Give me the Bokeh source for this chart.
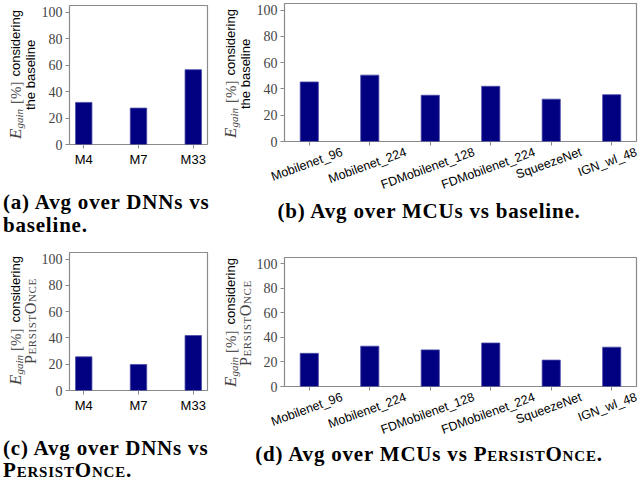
import math
from bokeh.plotting import figure
from bokeh.models import FixedTicker, Range1d, Div, LinearAxis
from bokeh.layouts import column, row
from bokeh.embed import file_html
from bokeh.resources import INLINE

# ---------------- data ----------------
dnn_names = ["M4", "M7", "M33"]
dnn_vs_baseline = [31.8, 27.5, 56.5]
dnn_vs_persist = [25.6, 19.8, 41.8]

mcu_names = ["Mobilenet_96", "Mobilenet_224", "FDMobilenet_128",
             "FDMobilenet_224", "SqueezeNet", "IGN_wl_48"]
mcu_vs_baseline = [45.3, 50.5, 35.2, 42.0, 32.2, 35.6]
mcu_vs_persist = [27.0, 32.8, 29.8, 35.4, 21.5, 32.0]

y_ticks = [0, 20, 40, 60, 80, 100]

captions = {
    "a": "(a) Avg over DNNs vs<br>baseline.",
    "b": "(b) Avg over MCUs vs baseline.",
    "c": "(c) Avg over DNNs vs<br><span style='font-variant:small-caps'>PersistOnce</span>.",
    "d": "(d) Avg over MCUs vs <span style='font-variant:small-caps'>PersistOnce</span>.",
}
ylabel_line1 = ("<i style=\"font-family:'Liberation Serif';font-size:17px;line-height:0;color:#444\">E</i>"
                "<span style=\"font-family:'Liberation Serif';font-style:italic;font-size:11px;"
                "line-height:0;vertical-align:-3px;color:#444\">gain</span>"
                "<span style=\"font-family:'Liberation Serif';font-size:15px;line-height:0;"
                "margin-inline-start:5px;margin-inline-end:5px;color:#555\">[%]</span>"
                "considering")
ylabel_line2_base = "the baseline"
ylabel_line2_persist = ("<span style=\"font-family:'Liberation Serif';font-variant:small-caps;"
                        "font-size:16px;line-height:0;letter-spacing:0.6px;color:#444\">PersistOnce</span>")

BAR = "#000080"
FRAME = "#8a8a8a"
SANS = "Liberation Sans"
LABW = 38

# approximate advance widths (em) of the tick-label font, used to centre rotated labels
CHAR_W = {"M": .833, "o": .556, "b": .556, "i": .222, "l": .222, "e": .556, "n": .556,
          "t": .278, "_": .556, "F": .611, "D": .722, "S": .667, "q": .556, "u": .556,
          "z": .5, "N": .722, "I": .278, "G": .778, "w": .722}


def text_w(s, fs):
    return fs * sum(CHAR_W.get(c, .556) for c in s)


def make_panel(names, vals, W, H, left, right, top, bottom, xlo, xhi, rotated):
    p = figure(width=W, height=H, x_range=Range1d(xlo, xhi), y_range=Range1d(0, 105),
               output_backend="svg", toolbar_location=None,
               min_border_left=left, min_border_right=right,
               min_border_top=top, min_border_bottom=bottom)
    p.background_fill_color = "white"
    p.border_fill_color = "white"
    p.outline_line_color = FRAME
    p.outline_line_width = 1.2
    p.grid.visible = False
    xs = list(range(len(names)))
    p.vbar(x=xs, top=vals, width=0.3, bottom=0, fill_color=BAR,
           line_color="#4a4aa6", line_width=0.8)
    for ax in (p.xaxis, p.yaxis):
        ax.axis_line_color = None
        ax.major_tick_line_color = FRAME
        ax.major_tick_in = 0
        ax.major_tick_out = 4
        ax.minor_tick_line_color = None
    p.yaxis.ticker = FixedTicker(ticks=y_ticks)
    p.yaxis.major_label_text_font = "serif"
    p.yaxis.major_label_text_font_size = "14px"
    p.yaxis.major_label_text_color = "#444444"
    p.yaxis.major_label_standoff = 3
    p.xaxis.ticker = FixedTicker(ticks=xs)
    if rotated:
        fw = W - left - right
        xppu = fw / (xhi - xlo)
        fs = 12.5
        ang = math.radians(20)
        p.xaxis.major_label_overrides = {i: "" for i in xs}
        p.xaxis.major_label_text_font_size = "0px"
        p.xaxis.major_label_standoff = 0
        pos = []
        for i, n in enumerate(names):
            w = text_w(n, fs)
            dx = (w * math.cos(ang) - 13 * math.sin(ang)) / 2
            pos.append(min(i + dx / xppu, xhi - 0.002))
        lab_ax = LinearAxis(ticker=FixedTicker(ticks=pos),
                            major_label_overrides={t: n for t, n in zip(pos, names)},
                            axis_line_color=None, major_tick_line_color=None,
                            minor_tick_line_color=None, major_tick_out=0, major_tick_in=0,
                            major_label_orientation=ang, major_label_standoff=6,
                            major_label_text_font=SANS, major_label_text_font_size=f"{fs}px",
                            major_label_text_color="black")
        p.add_layout(lab_ax, "below")
    else:
        p.xaxis.major_label_overrides = {i: n for i, n in enumerate(names)}
        p.xaxis.major_label_text_font = SANS
        p.xaxis.major_label_text_color = "black"
        p.xaxis.major_label_text_font_size = "13px"
        p.xaxis.major_label_standoff = 3
    return p


def ylabel(H, top, fh, line2):
    inner = (f"<div style=\"position:absolute;left:8px;top:{top}px;height:{fh}px;"
             f"writing-mode:vertical-rl;transform:rotate(180deg);text-align:center;"
             f"line-height:15px;font-family:'Liberation Sans';font-size:13px;color:#000;"
             f"white-space:nowrap;\">{ylabel_line1}<br>{line2}</div>")
    html = f"<div style=\"position:relative;width:{LABW}px;height:{H}px;\">{inner}</div>"
    return Div(text=html, width=LABW, height=H, margin=0)


def caption(html, W, H, pad, lh, center):
    style = (f"font-family:'Liberation Serif';font-weight:bold;font-size:21px;line-height:{lh}px;"
             f"letter-spacing:0.8px;color:#000;padding-top:{pad}px;padding-left:3px;"
             f"text-align:{'center' if center else 'left'};width:{W}px;white-space:nowrap;")
    return Div(text=f"<div style=\"{style}\">{html}</div>", width=W, height=H, margin=0)


pa = make_panel(dnn_names, dnn_vs_baseline, 215 - LABW, 172, 30, 8, 5, 28, -0.26, 2.26, False)
pb = make_panel(mcu_names, mcu_vs_baseline, 425 - LABW, 201, 29, 4, 3, 57, -0.41, 5.41, True)
pc = make_panel(dnn_names, dnn_vs_persist, 215 - LABW, 170, 29, 8, 7, 25, -0.26, 2.26, False)
pd = make_panel(mcu_names, mcu_vs_persist, 425 - LABW, 201, 28, 4, 12, 57, -0.41, 5.41, True)

la = ylabel(172, 5, 139, ylabel_line2_base)
lb = ylabel(201, 3, 141, ylabel_line2_base)
lc = ylabel(170, 7, 138, ylabel_line2_persist)
ld = ylabel(201, 12, 132, ylabel_line2_persist)

ca = caption(captions["a"], 215, 73, 19, 23, False)
cb = caption(captions["b"], 425, 44, 1, 18, True)
cc = caption(captions["c"], 215, 75, 22, 22, False)
cd = caption(captions["d"], 425, 44, 1, 14, True)

layout = column(
    row(column(row(la, pa, spacing=0), ca, spacing=0),
        column(row(lb, pb, spacing=0), cb, spacing=0), spacing=0),
    row(column(row(lc, pc, spacing=0), cc, spacing=0),
        column(row(ld, pd, spacing=0), cd, spacing=0), spacing=0),
    spacing=0,
)

open("out.html", "w").write(file_html(layout, INLINE))
